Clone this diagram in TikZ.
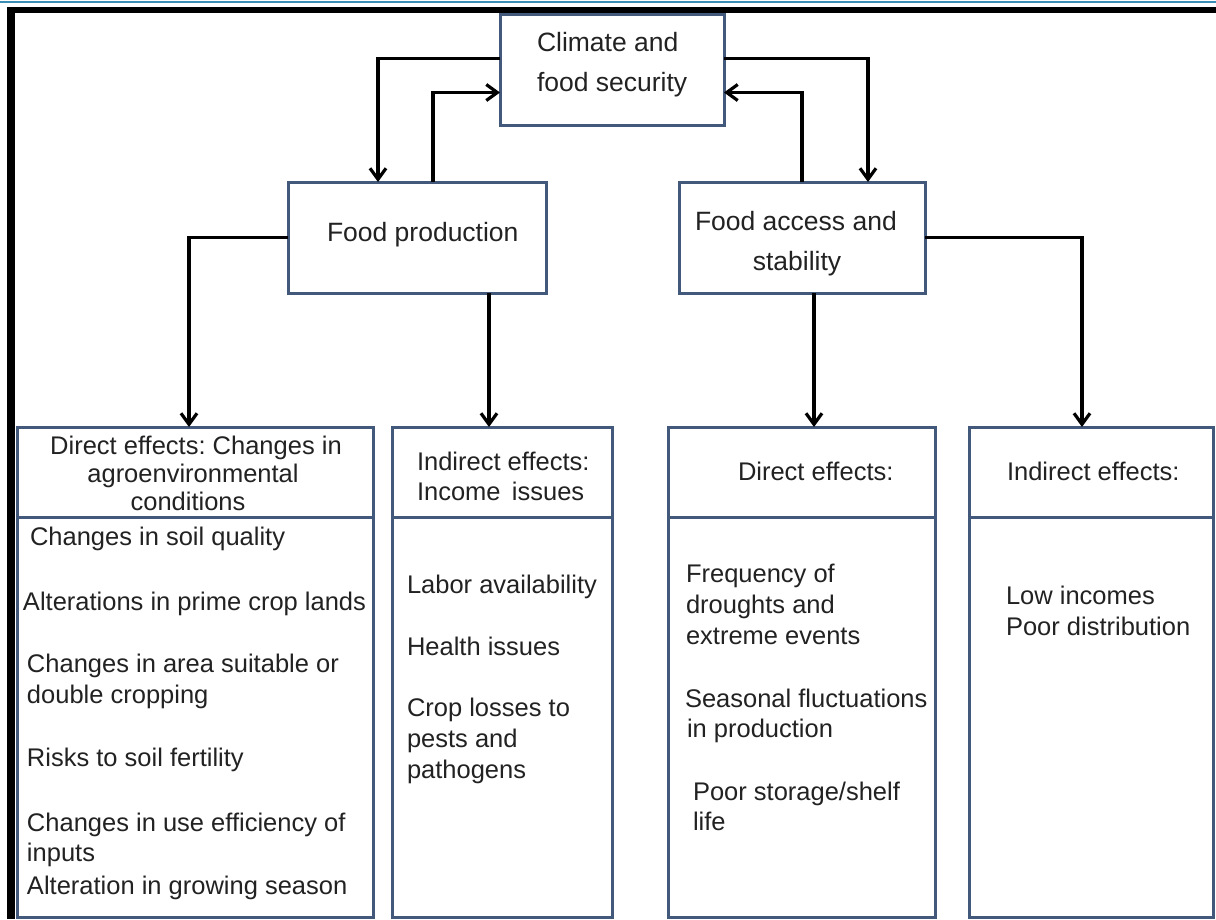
\documentclass[tikz,border=0pt]{standalone}
\usepackage{fontspec}
\setmainfont{Liberation Sans}
\usetikzlibrary{arrows.meta}
\definecolor{boxc}{HTML}{42597C}
\definecolor{ink}{HTML}{222222}
\definecolor{rulec}{HTML}{3A8DB4}
\frenchspacing
\begin{document}
\begin{tikzpicture}[x=1pt,y=-1pt,
  box/.style={rectangle, draw=boxc, line width=3pt, fill=white,
    inner sep=0pt, outer sep=0pt, anchor=north west},
  txt/.style={anchor=west, inner sep=0pt, outer sep=0pt, text=ink,
    font=\fontsize{25.5}{30}\selectfont, text height=21pt, text depth=5pt},
  bigtxt/.style={txt, font=\fontsize{26.5}{30}\selectfont},
  link/.style={draw=black, line width=3.2pt,
    -{Straight Barb[length=11pt,width=16pt]}}]
\useasboundingbox (0,0) rectangle (1216,919);

% page frame
\draw[rulec, line width=2.5pt] (0,2) -- (1216,2);
\draw[black, line width=6pt] (7,10) -- (1216,10);
\draw[black, line width=8pt] (11,7) -- (11,919);

% upper boxes
\node[box, minimum width=224pt, minimum height=111pt] (cfs) at (500,14) {};
\node[box, minimum width=258pt, minimum height=111pt] (fp) at (288,182) {};
\node[box, minimum width=246pt, minimum height=111pt] (fa) at (679,182) {};

% effect columns: header and body
\node[box, minimum width=356pt, minimum height=90pt] (h1) at (17,427) {};
\node[box, minimum width=356pt, minimum height=400pt] (d1) at (17,517) {};
\node[box, minimum width=220pt, minimum height=90pt] (h2) at (392,427) {};
\node[box, minimum width=220pt, minimum height=400pt] (d2) at (392,517) {};
\node[box, minimum width=267pt, minimum height=90pt] (h3) at (668,427) {};
\node[box, minimum width=267pt, minimum height=400pt] (d3) at (668,517) {};
\node[box, minimum width=244pt, minimum height=90pt] (h4) at (969,427) {};
\node[box, minimum width=244pt, minimum height=400pt] (d4) at (969,517) {};

% texts of the upper boxes
\node[bigtxt] (cfs1) at (537,43) {Climate and};
\node[bigtxt] (cfs2) at (537,83) {food security};
\node[bigtxt] (fpt) at (327,233) {Food production};
\node[bigtxt] (fa1) at (695,222) {Food access and};
\node[bigtxt, anchor=center] (fa2) at (797,262) {stability};

% headers
\node[txt, anchor=center] (h1a) at (196,446) {Direct effects: Changes in};
\node[txt, anchor=center] (h1b) at (193,474) {agroenvironmental};
\node[txt, anchor=center] (h1c) at (188,502) {conditions};
\node[txt] (h2a) at (417,462) {Indirect effects:};
\node[txt] (h2b) at (417,492) {Income\, issues};
\node[txt] (h3a) at (738,472) {Direct effects:};
\node[txt] (h4a) at (1007,472) {Indirect effects:};

% column 1
\node[txt] (c1a) at (30,537) {Changes in soil quality};
\node[txt] (c1b) at (23,602) {Alterations in prime crop lands};
\node[txt] (c1c) at (27,664) {Changes in area suitable or};
\node[txt] (c1d) at (27,695) {double cropping};
\node[txt] (c1e) at (27,758) {Risks to soil fertility};
\node[txt] (c1f) at (27,823) {Changes in use efficiency of};
\node[txt] (c1g) at (27,853) {inputs};
\node[txt] (c1h) at (27,886) {Alteration in growing season};

% column 2
\node[txt] (c2a) at (407,585) {Labor availability};
\node[txt] (c2b) at (407,647) {Health issues};
\node[txt] (c2c) at (407,708) {Crop losses to};
\node[txt] (c2d) at (407,739) {pests and};
\node[txt] (c2e) at (407,770) {pathogens};

% column 3
\node[txt] (c3a) at (686,574) {Frequency of};
\node[txt] (c3b) at (686,605) {droughts and};
\node[txt] (c3c) at (686,636) {extreme events};
\node[txt] (c3d) at (685,699) {Seasonal fluctuations};
\node[txt] (c3e) at (687,729) {in production};
\node[txt] (c3f) at (693,792) {Poor storage/shelf};
\node[txt] (c3g) at (693,822) {life};

% column 4
\node[txt] (c4a) at (1006,596) {Low incomes};
\node[txt] (c4b) at (1006,627) {Poor distribution};

% connectors between the top box and the two main boxes
\draw[link] ([yshift=11pt]cfs.west) -| ([xshift=-39pt]fp.north);
\draw[link] ([xshift=16pt]fp.north) |- ([yshift=-23pt]cfs.west);
\draw[link] ([yshift=11pt]cfs.east) -| ([xshift=66pt]fa.north);
\draw[link] (fa.north) |- ([yshift=-23pt]cfs.east);

% connectors down to the effect columns
\draw[link] (fp.west) -| ([xshift=-6pt]h1.north);
\draw[link] ([xshift=72pt]fp.south) -- ([xshift=72pt]fp.south |- h2.north);
\draw[link] ([xshift=12pt]fa.south) -- ([xshift=12pt]fa.south |- h3.north);
\draw[link] (fa.east) -| ([xshift=-9pt]h4.north);
\end{tikzpicture}
\end{document}
